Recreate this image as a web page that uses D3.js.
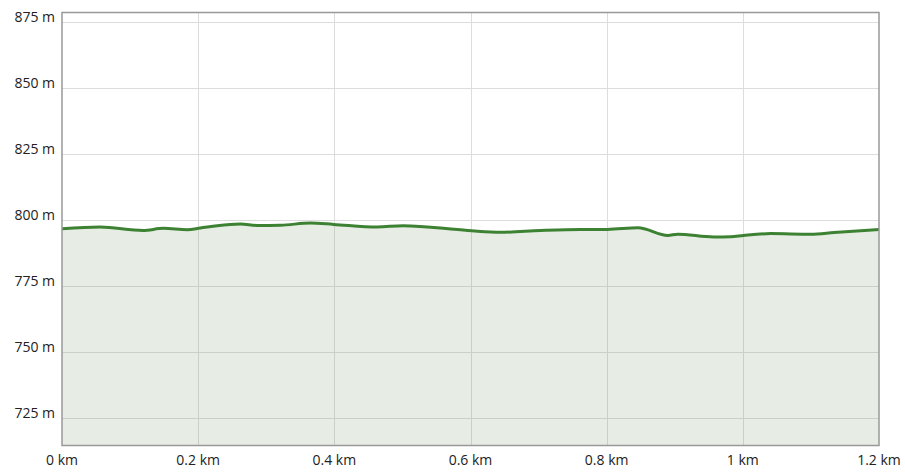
<!DOCTYPE html>
<html>
<head>
<meta charset="utf-8">
<script src="https://cdn.jsdelivr.net/npm/d3@7"></script>
<style>
  body { margin: 0; background: #fff; }
  text { font-family: "Open Sans", "Noto Sans", sans-serif; font-size: 14px; fill: #222; }
</style>
</head>
<body>
<script>
const WIDTH = 905;
const HEIGHT = 473;
const LEFT = 62, RIGHT = 879, TOP = 12.5, BOTTOM = 445.5;

// distance along the route (km) and elevation (m)
var distKm = [0.0, 0.056, 0.119, 0.149, 0.184, 0.203, 0.228, 0.262, 0.287, 0.321, 0.365,
  0.399, 0.463, 0.501, 0.596, 0.644, 0.703, 0.762, 0.801, 0.846, 0.890, 0.904, 0.957,
  0.982, 1.001, 1.041, 1.100, 1.134, 1.2];
var elevM = [796.6, 797.3, 796.0, 796.8, 796.3, 796.9, 797.8, 798.4, 797.9, 798.0, 798.8,
  798.3, 797.3, 797.8, 796.0, 795.3, 796.0, 796.4, 796.4, 797.0, 794.1, 794.6, 793.5,
  793.6, 794.1, 794.8, 794.6, 795.2, 796.4];

var xTicks = [0, 0.2, 0.4, 0.6, 0.8, 1, 1.2];
var yTicks = [725, 750, 775, 800, 825, 850, 875];

var data = distKm.map(function(d, i){ return {x: d, y: elevM[i]}; });

var xScale = d3.scaleLinear().domain([0, 1.2]).range([LEFT, RIGHT]);
var yScale = d3.scaleLinear().domain([714.5, 878.6]).range([BOTTOM, TOP]);

var svg = d3.select('body').append('svg')
  .attr('width', WIDTH).attr('height', HEIGHT);

// grid
svg.append('g').selectAll('line').data(yTicks).enter().append('line')
  .attr('x1', LEFT).attr('x2', RIGHT)
  .attr('y1', function(d){ return Math.round(yScale(d)) + 0.5; })
  .attr('y2', function(d){ return Math.round(yScale(d)) + 0.5; })
  .attr('stroke', '#dcdcdc').attr('stroke-width', 1);

svg.append('g').selectAll('line').data(xTicks.slice(1, -1)).enter().append('line')
  .attr('y1', TOP).attr('y2', BOTTOM)
  .attr('x1', function(d){ return Math.round(xScale(d)) + 0.5; })
  .attr('x2', function(d){ return Math.round(xScale(d)) + 0.5; })
  .attr('stroke', '#dcdcdc').attr('stroke-width', 1);

// area + line
var area = d3.area()
  .x(function(d){ return xScale(d.x); })
  .y0(BOTTOM)
  .y1(function(d){ return yScale(d.y); })
  .curve(d3.curveMonotoneX);

var line = d3.line()
  .x(function(d){ return xScale(d.x); })
  .y(function(d){ return yScale(d.y); })
  .curve(d3.curveMonotoneX);

svg.append('path').attr('d', area(data))
  .attr('fill', 'rgba(110,150,100,0.17)');

svg.append('path').attr('d', line(data))
  .attr('fill', 'none').attr('stroke', '#3d8233')
  .attr('stroke-width', 3).attr('stroke-linejoin', 'round');

// frame
svg.append('rect')
  .attr('x', LEFT).attr('y', TOP)
  .attr('width', RIGHT - LEFT).attr('height', BOTTOM - TOP)
  .attr('fill', 'none').attr('stroke', '#999').attr('stroke-width', 1.5);

// axis labels
svg.append('g').selectAll('text').data(yTicks).enter().append('text')
  .attr('x', 55)
  .attr('y', function(d){ return yScale(d) - 4; })
  .attr('text-anchor', 'end')
  .attr('dominant-baseline', 'middle')
  .text(function(d){ return d + ' m'; });

svg.append('g').selectAll('text').data(xTicks).enter().append('text')
  .attr('x', function(d){ return xScale(d); })
  .attr('y', 465)
  .attr('text-anchor', 'middle')
  .text(function(d){ return d + ' km'; });
</script>
</body>
</html>
